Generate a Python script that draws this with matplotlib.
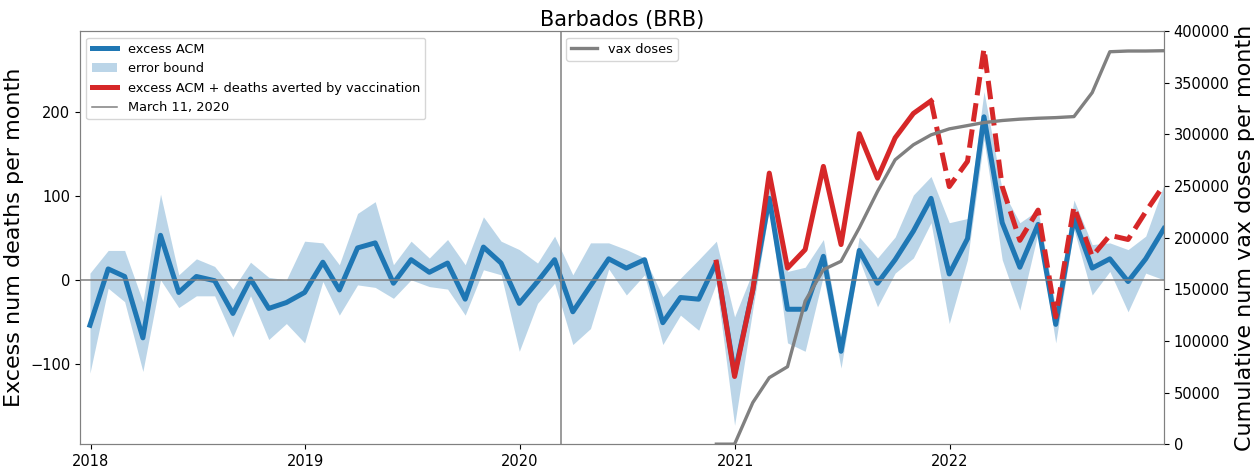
"""
Excess all-cause mortality for Barbados with cumulative vaccine doses.
"""

import matplotlib
matplotlib.use('Agg')
import matplotlib.pyplot as plt
import matplotlib.dates as mdates
import pandas as pd

# monthly series (month-end dates), Dec 2017 .. Dec 2022
months = pd.date_range("2017-12-31", periods=61, freq="ME")

excess_acm = [-54, 13, 4, -69, 53, -15, 4, -1, -40, 1, -34, -27, -15, 21, -12, 38,
              44, -4, 24, 9, 20, -23, 39, 20, -28, -2, 24, -38, -7, 25, 14, 24,
              -51, -21, -23, 21, -112, -12, 97, -35, -35, 28, -85, 35, -4, 24, 58,
              97, 7, 49, 194, 68, 15, 66, -53, 73, 14, 25, -2, 25, 61]

err_upper = [8, 35, 35, -26, 102, 6, 25, 16, -11, 21, 3, 0, 46, 44, 18, 79, 93,
             18, 46, 26, 48, 18, 75, 46, 36, 20, 52, 6, 44, 44, 36, 26, -20, 2,
             24, 46, -44, 10, 110, 10, 15, 48, -71, 51, 26, 51, 101, 123, 68, 73,
             224, 107, 68, 83, -34, 95, 42, 44, 36, 52, 113]

err_lower = [-111, -10, -26, -109, 0, -33, -19, -19, -68, -19, -71, -52, -75, -2,
             -42, -6, -9, -22, 0, -8, -11, -42, 12, 6, -85, -28, -4, -77, -58, 13,
             -18, 6, -77, -42, -60, -4, -173, -35, 85, -75, -85, 5, -105, 24, -32,
             8, 26, 68, -52, 24, 167, 24, -36, 56, -75, 60, -18, 10, -38, 8, 0]

# excess ACM + deaths averted, from index 35; dashed from index 47
averted_start = 35
dash_start = 47
acm_plus_averted = [21, -115, -12, 127, 14, 36, 135, 42, 174, 121, 169, 198, 213,
                    111, 141, 275, 111, 47, 83, -44, 87, 28, 53, 48, 81, 113]

# cumulative vaccine doses, from index 35
vax_doses = [0, 0, 40300, 64400, 75000, 138500, 169000, 177100, 209400, 244700,
             275400, 289900, 299500, 305300, 308500, 311400, 313400, 314700,
             315600, 316200, 317200, 340400, 380000, 380700, 380700, 381000]

pandemic_date = pd.Timestamp("2020-03-11")

fig = plt.figure(figsize=(12.59, 4.71), dpi=100)
ax = fig.add_axes([0.0635, 0.057, 0.861, 0.877])

ax.plot(months, excess_acm, color="#1f77b4", lw=3.6, label="excess ACM")
ax.fill_between(months, err_lower, err_upper, color="#1f77b4", alpha=0.3,
                lw=0, label="error bound")

red_dates = months[averted_start:]
n_solid = dash_start - averted_start + 1
ax.plot(red_dates[:n_solid], acm_plus_averted[:n_solid], color="#d62728", lw=3.6,
        label="excess ACM + deaths averted by vaccination")
ax.plot(red_dates[n_solid - 1:], acm_plus_averted[n_solid - 1:], color="#d62728",
        lw=3.6, ls="--")

ax.axhline(0, color="gray", lw=1.1)
ax.axvline(pandemic_date, color="gray", lw=1.1, label="March 11, 2020")

ax.set_xlim(pd.Timestamp("2017-12-14"), months[-1])
ax.set_ylim(-195.5, 296)
ax.xaxis.set_major_locator(mdates.YearLocator())
ax.xaxis.set_major_formatter(mdates.DateFormatter("%Y"))
ax.tick_params(labelsize=10.5)
ax.set_ylabel("Excess num deaths per month", fontsize=16)
ax.set_title("Barbados (BRB)", fontsize=15, pad=4)
ax.legend(loc="upper left", fontsize=9.3)

ax2 = ax.twinx()
ax2.plot(months[averted_start:], vax_doses, color="gray", lw=2.4, label="vax doses")
ax2.set_ylim(0, 400000)
ax2.tick_params(labelsize=10.5)
ax2.set_ylabel("Cumulative num vax doses per month", fontsize=16)
ax2.legend(loc="upper center", fontsize=9.3)

for a in (ax, ax2):
    for s in a.spines.values():
        s.set_color("#808080")

plt.savefig("out.png", dpi=100)
